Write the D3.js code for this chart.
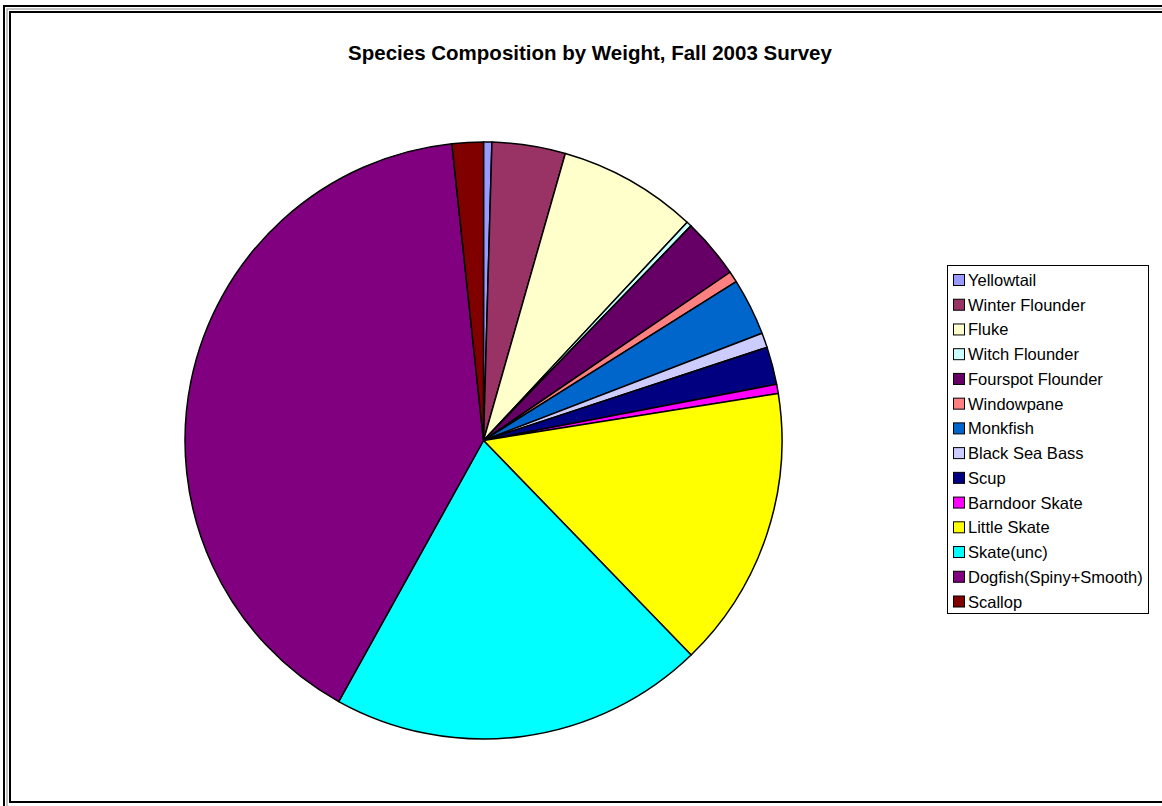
<!DOCTYPE html>
<html>
<head>
<meta charset="utf-8">
<script src="https://cdn.jsdelivr.net/npm/d3@7"></script>
<style>
  html, body { margin: 0; padding: 0; background: #fff; }
  svg { display: block; }
</style>
</head>
<body>
<svg id="chart" width="1162" height="806"></svg>
<script>
// Species list in plotting order (clockwise from 12 o'clock)
const species = [
  "Yellowtail", "Winter Flounder", "Fluke", "Witch Flounder", "Fourspot Flounder",
  "Windowpane", "Monkfish", "Black Sea Bass", "Scup", "Barndoor Skate",
  "Little Skate", "Skate(unc)", "Dogfish(Spiny+Smooth)", "Scallop"
];
// Share of total catch weight (%)
const weightPct = [
  0.45, 3.97, 7.53, 0.28, 3.24,
  0.60, 3.08, 0.80, 2.03, 0.50,
  15.28, 20.30, 40.25, 1.69
];
const sliceColors = [
  "#9999FF", "#993366", "#FFFFCC", "#CCFFFF", "#660066",
  "#FF8080", "#0066CC", "#CCCCFF", "#000080", "#FF00FF",
  "#FFFF00", "#00FFFF", "#800080", "#800000"
];
const chartTitle = "Species Composition by Weight, Fall 2003 Survey";

const svg = d3.select("#chart");
const font = "'Liberation Sans', Arial, sans-serif";

// Double frame around the chart area
svg.append("rect").attr("x", 4).attr("y", 6).attr("width", 1200).attr("height", 840)
  .attr("fill", "none").attr("stroke", "#000").attr("stroke-width", 2);
svg.append("rect").attr("x", 7).attr("y", 9).attr("width", 1200).attr("height", 840)
  .attr("fill", "none").attr("stroke", "#888").attr("stroke-width", 1);
svg.append("rect").attr("x", 10).attr("y", 12).attr("width", 1200).attr("height", 790)
  .attr("fill", "none").attr("stroke", "#000").attr("stroke-width", 2);

// Title
svg.append("text")
  .attr("x", 590).attr("y", 60)
  .attr("text-anchor", "middle")
  .attr("font-family", font).attr("font-weight", "bold").attr("font-size", 20.5)
  .text(chartTitle);

// Pie
const data = species.map((s, i) => ({ name: s, value: weightPct[i], color: sliceColors[i] }));
const pie = d3.pie().value(d => d.value).sort(null);
const arc = d3.arc().innerRadius(0).outerRadius(298.5);
const color = d3.scaleOrdinal().domain(species).range(sliceColors);

const g = svg.append("g").attr("transform", "translate(483.5,440.5)");
g.selectAll("path")
  .data(pie(data))
  .join("path")
  .attr("d", arc)
  .attr("fill", d => color(d.data.name))
  .attr("stroke", "#000")
  .attr("stroke-width", 1.5)
  .attr("stroke-linejoin", "round");

// Legend
const lg = svg.append("g").attr("transform", "translate(947,265)");
lg.append("rect").attr("x", 0.5).attr("y", 0.5).attr("width", 201).attr("height", 348)
  .attr("fill", "#fff").attr("stroke", "#000").attr("stroke-width", 1);

const rowY = d3.scalePoint().domain(species).range([15, 336.5]);
const items = lg.selectAll("g.item").data(species).join("g")
  .attr("class", "item")
  .attr("transform", d => `translate(0,${rowY(d)})`);
items.append("rect")
  .attr("x", 6.5).attr("y", -5.5).attr("width", 11).attr("height", 11)
  .attr("fill", d => color(d)).attr("stroke", "#000").attr("stroke-width", 1);
items.append("text")
  .attr("x", 21).attr("y", 6)
  .attr("font-family", font).attr("font-size", 16.5)
  .text(d => d);
</script>
</body>
</html>
